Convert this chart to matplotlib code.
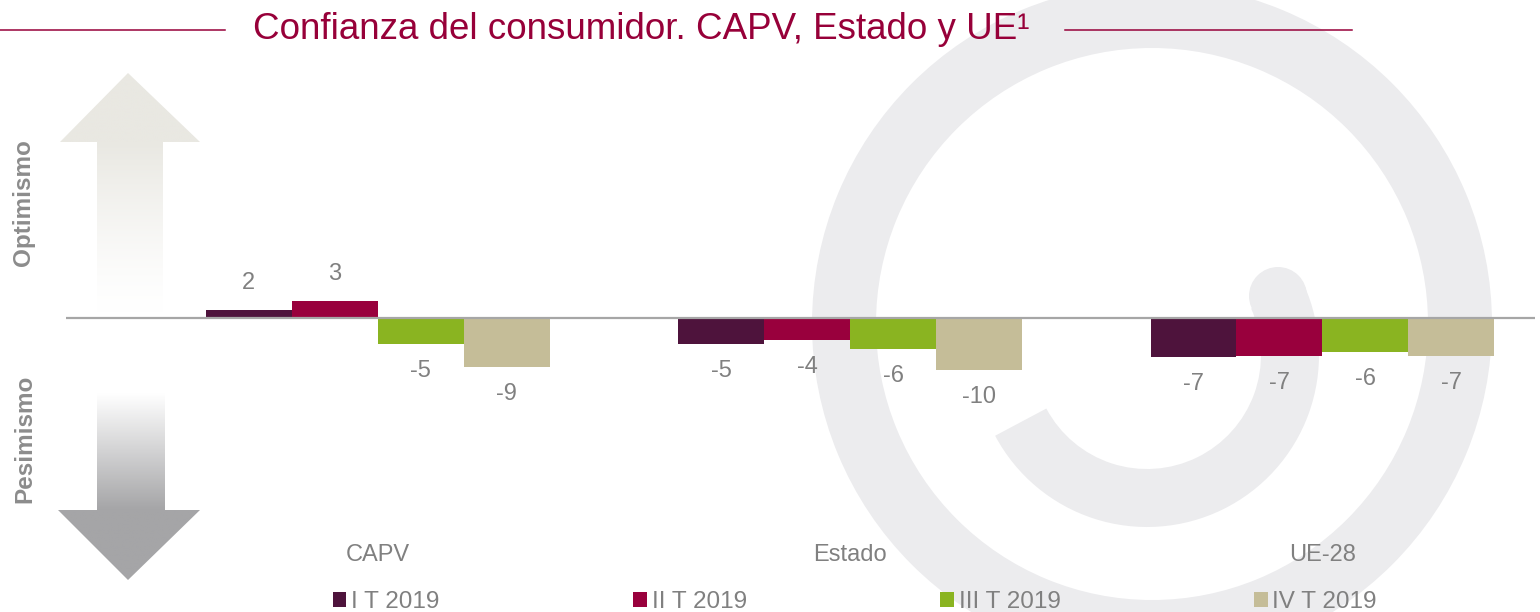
import numpy as np
import matplotlib
matplotlib.use('Agg')
import matplotlib.pyplot as plt
from matplotlib.patches import Polygon, Wedge, Circle

plt.rcParams['font.family'] = ['Liberation Sans', 'DejaVu Sans']

categories = ['CAPV', 'Estado', 'UE-28']
quarters = ['I T 2019', 'II T 2019', 'III T 2019', 'IV T 2019']
q1 = [1.5, -4.9, -7.3]
q2 = [3.2, -4.1, -7.1]
q3 = [-4.9, -5.8, -6.4]
q4 = [-9.2, -9.8, -7.1]
colors = ['#4e133c', '#99003d', '#8ab421', '#c5bd98']

title_color = '#970039'
text_grey = '#808080'
logo_grey = '#ececee'

W, H = 1540, 612
fig = plt.figure(figsize=(W / 100, H / 100), dpi=100)

# background layer in pixel units (y up)
bg = fig.add_axes([0, 0, 1, 1], zorder=0)
bg.set_xlim(0, W)
bg.set_ylim(0, H)
bg.axis('off')

# watermark logo
bg.add_patch(Wedge((1152, 288), 340, 0, 360, width=64, color=logo_grey, lw=0))
bg.add_patch(Wedge((1147, 257), 172, 208, 384, width=58, color=logo_grey, lw=0))
bg.add_patch(Circle((1278, 316), 29, color=logo_grey, lw=0))


def gradient_arrow(poly, extent, frac_fn, col):
    patch = Polygon(poly, closed=True, facecolor='none', edgecolor='none')
    bg.add_patch(patch)
    ys = np.linspace(extent[2], extent[3], 300)
    f = np.clip(frac_fn(ys), 0, 1)[:, None]
    rgb = 1 - f * (1 - np.array(col)[None, :])
    img = rgb[:, None, :]
    im = bg.imshow(img, extent=extent, origin='lower', aspect='auto', interpolation='bilinear')
    im.set_clip_path(patch)


up_poly = [(97, 294), (97, 470), (60, 470), (128, 539), (200, 470), (163, 470), (163, 294)]
gradient_arrow(up_poly, [60, 200, 294, 539],
               lambda y: np.clip((y - 300) / 170.0, 0, 1) ** 1.3,
               (233 / 255, 232 / 255, 226 / 255))

down_poly = [(97, 219), (97, 102), (58, 102), (128, 32), (200, 102), (165, 102), (165, 219)]
gradient_arrow(down_poly, [58, 200, 32, 219],
               lambda y: (219 - y) / 117.0,
               (165 / 255, 165 / 255, 167 / 255))

bg.text(23, 409, 'Optimismo', rotation=90, ha='center', va='center',
        fontsize=17.5, fontweight='bold', color='#8c8c8c')
bg.text(25, 173, 'Pesimismo', rotation=90, ha='center', va='center',
        fontsize=17.5, fontweight='bold', color='#8c8c8c')

# title with side rules
bg.text(253, 573, 'Confianza del consumidor. CAPV, Estado y UE\u00b9', ha='left', va='baseline',
        fontsize=26.5, color=title_color)
bg.plot([0, 225], [582, 582], color=title_color, lw=1.1)
bg.plot([1065, 1352], [582, 582], color=title_color, lw=1.1)

# main chart
ax = fig.add_axes([66 / W, 72 / H, (1535 - 66) / W, 480 / H], zorder=1)
ax.patch.set_alpha(0)
ax.set_xlim(-0.66, 2.45)
ax.set_ylim(-41.9, 48.7)

x = np.arange(len(categories))
w = 0.182
series = [q1, q2, q3, q4]
for i, (vals, lab, c) in enumerate(zip(series, quarters, colors)):
    xs = x + (i - 1.5) * w
    ax.bar(xs, vals, w, color=c, label=lab, zorder=2)
    for xi, v in zip(xs, vals):
        off = 19.5 if v > 0 else -19.5
        ax.annotate('{:.0f}'.format(v), (xi, v), xytext=(0, off), textcoords='offset points',
                    ha='center', va='center', fontsize=17, color=text_grey)

ax.axhline(0, color='#a6a6a6', lw=1.6, zorder=3)
ax.set_xticks(x)
ax.set_xticklabels(categories, fontsize=17, color=text_grey)
ax.tick_params(length=0, pad=3)
ax.set_yticks([])
for s in ax.spines.values():
    s.set_visible(False)

ax.legend(loc='center left', bbox_to_anchor=(333 / W, 10 / H), bbox_transform=fig.transFigure,
          ncol=4, frameon=False, fontsize=17.5, labelcolor=text_grey,
          handlelength=0.55, handleheight=0.55, handletextpad=0.2, columnspacing=7.97,
          borderpad=0, borderaxespad=0)

fig.savefig('out.png', dpi=100, facecolor='white')
